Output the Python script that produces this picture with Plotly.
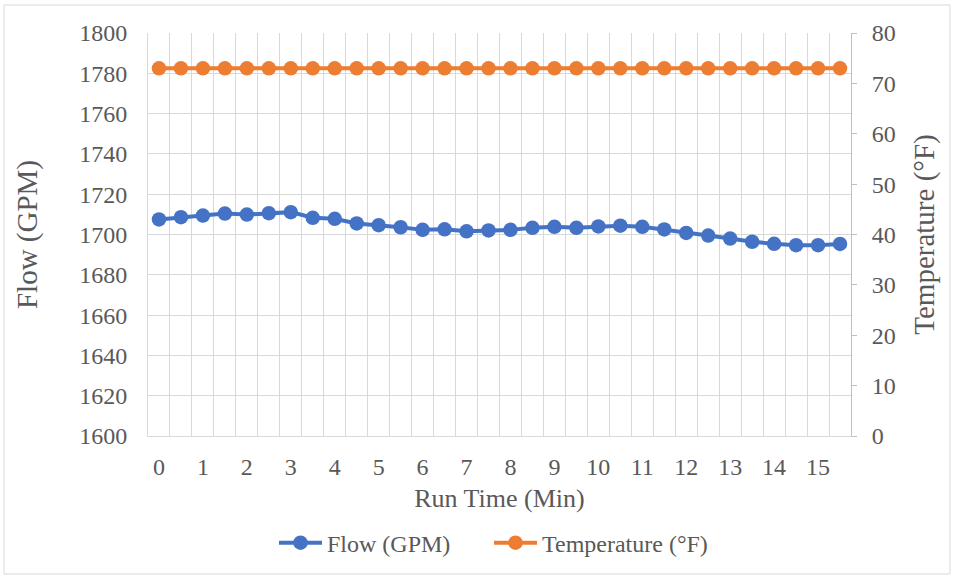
import plotly.graph_objects as go

# Run time in minutes, sampled every half minute
run_time = [i * 0.5 for i in range(32)]

flow_gpm = [1707.5, 1708.6, 1709.4, 1710.4, 1709.9, 1710.6, 1711.1, 1708.3,
            1707.8, 1705.5, 1704.6, 1703.6, 1702.3, 1702.6, 1701.6, 1702.0,
            1702.3, 1703.3, 1703.8, 1703.3, 1704.0, 1704.4, 1703.8, 1702.5,
            1700.8, 1699.5, 1698.0, 1696.4, 1695.4, 1694.7, 1694.7, 1695.3]

temperature_f = [73] * 32

x_ticks = list(range(16))
flow_ticks = list(range(1600, 1801, 20))
temp_ticks = list(range(0, 81, 10))

FONT = "Liberation Serif"
TEXT = "#595959"
GRID = "#D9D9D9"


def font(size):
    return dict(family=FONT, color=TEXT, size=size)


def legend_at(left_px):
    # one legend box per series so the entries can be spaced freely
    return dict(orientation="h", x=(left_px - 148) / 703, xanchor="left",
                y=-0.21, yanchor="top", itemwidth=43, font=font(24),
                bgcolor="rgba(0,0,0,0)")


fig = go.Figure()
fig.add_trace(go.Scatter(
    x=run_time, y=flow_gpm, name="Flow (GPM)", mode="lines+markers",
    line=dict(color="#4472C4", width=4),
    marker=dict(color="#4472C4", size=14.5),
    legend="legend",
))
fig.add_trace(go.Scatter(
    x=run_time, y=temperature_f, name="Temperature (°F)", mode="lines+markers",
    yaxis="y2",
    line=dict(color="#ED7D31", width=4),
    marker=dict(color="#ED7D31", size=14.5),
    legend="legend2",
))

fig.update_layout(
    width=954, height=578,
    margin=dict(l=148, r=103, t=33, b=142),
    paper_bgcolor="white", plot_bgcolor="white",
    font=font(23),
    showlegend=True,
    legend=legend_at(274),
    legend2=legend_at(489),
    xaxis=dict(
        range=[-0.25, 15.75], tickvals=x_ticks, ticktext=[str(v) for v in x_ticks],
        showgrid=False, zeroline=False,
        showline=True, linecolor=GRID, linewidth=1,
        ticks="", ticklabelstandoff=9,
        minor=dict(tick0=-0.25, dtick=0.5, showgrid=True, gridcolor=GRID, gridwidth=1),
        title=dict(text="Run Time (Min)", font=font(26), standoff=10),
        tickfont=font(24),
    ),
    yaxis=dict(
        range=[1600, 1800], tickvals=flow_ticks,
        showgrid=True, gridcolor=GRID, gridwidth=1, zeroline=False,
        showline=True, linecolor=GRID,
        ticks="", ticklabelstandoff=15,
        title=dict(text="Flow (GPM)", font=font(29), standoff=33),
        tickfont=font(24),
    ),
    yaxis2=dict(
        range=[0, 80], tickvals=temp_ticks, overlaying="y", side="right",
        showgrid=False, zeroline=False,
        showline=True, linecolor="#BFBFBF",
        ticks="outside", ticklen=5, tickcolor="#BFBFBF",
        ticklabelstandoff=10,
        title=dict(text="Temperature (°F)", font=font(29), standoff=18),
        tickfont=font(24),
    ),
    shapes=[dict(type="rect", xref="paper", yref="paper",
                 x0=(4 - 148) / 703, x1=(950 - 148) / 703,
                 y0=(436 - 574) / 403, y1=(436 - 5) / 403,
                 line=dict(color=GRID, width=1), fillcolor="rgba(0,0,0,0)", layer="below")],
)

fig.write_html("out.html")
